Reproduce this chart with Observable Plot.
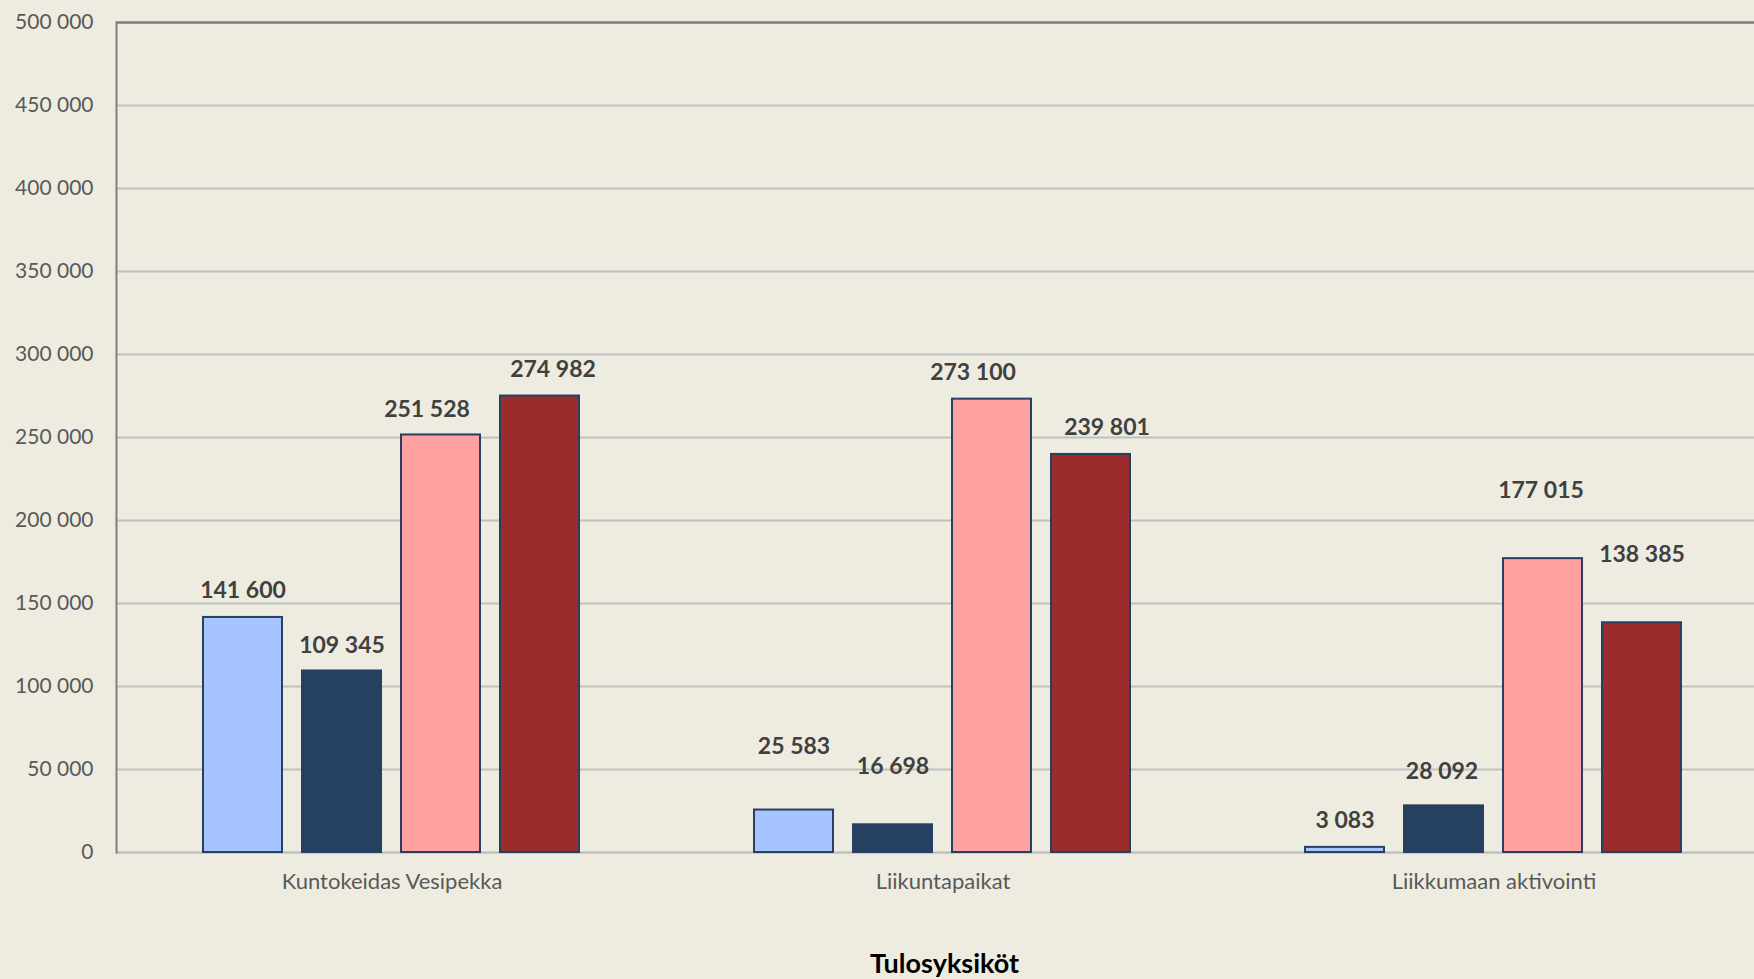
<!DOCTYPE html>
<html>
<head>
<meta charset="utf-8">
<script src="https://cdn.jsdelivr.net/npm/d3@7"></script>
<script src="https://cdn.jsdelivr.net/npm/@observablehq/plot@0.6"></script>
<style>
  html, body { margin: 0; padding: 0; background: #eeece1; }
  #chart svg { display: block; background: #eeece1; }
  #title {
    margin-top: 16px;
    padding-left: 135px;
    text-align: center;
    font-family: Lato, "Open Sans", sans-serif;
    font-weight: bold;
    font-size: 27px;
    line-height: normal;
    color: #000;
  }
</style>
</head>
<body>
<div id="chart"></div>
<div id="title">Tulosyksiköt</div>
<script>
// ---- data ----
const categories = ["Kuntokeidas Vesipekka", "Liikuntapaikat", "Liikkumaan aktivointi"];
const series = ["Sarja 1", "Sarja 2", "Sarja 3", "Sarja 4"];
const values1 = [141600, 25583, 3083];
const values2 = [109345, 16698, 28092];
const values3 = [251528, 273100, 177015];
const values4 = [274982, 239801, 138385];
const yTicks = [0, 50000, 100000, 150000, 200000, 250000, 300000, 350000, 400000, 450000, 500000];

// ---- styles ----
const colors = ["#a6c4ff", "#254061", "#ffa1a1", "#9a2c2c"];
// label placement nudges (px), per category row, per series column
const labelGap = [[19, 18, 18, 19], [56, 51, 19, 19], [19, 27, 61, 61]];
const labelShift = [[0, 0, -14, 13], [0, 0, -19, 16], [0, -2, -2, 0]];

const allValues = [values1, values2, values3, values4];
const rows = [];
categories.forEach((c, ci) => {
  series.forEach((s, si) => {
    rows.push({category: c, series: s, value: allValues[si][ci], gap: labelGap[ci][si], shift: labelShift[ci][si]});
  });
});

const fmt = d3.formatLocale({decimal: ",", thousands: " ", grouping: [3], currency: ["", ""]}).format(",d");
const font = "Lato, 'Open Sans', sans-serif";

const labelMarks = rows.map(r => Plot.text([r], {
  fx: "category", x: "series", y: "value",
  text: d => fmt(d.value),
  lineAnchor: "bottom", textAnchor: "middle",
  dy: -r.gap, dx: r.shift,
  fill: "#404040", fontWeight: "bold", fontSize: 23, fontFamily: font
}));

const chart = Plot.plot({
  width: 1754,
  height: 930,
  marginTop: 22,
  marginBottom: 78,
  marginLeft: 115,
  marginRight: -15,
  style: {background: "#eeece1", fontFamily: font, overflow: "hidden"},
  fx: {domain: categories, padding: 0, label: null},
  x: {domain: series, paddingInner: 0.2, paddingOuter: 0.86, axis: null},
  y: {domain: [0, 500000], label: null},
  color: {domain: series, range: colors},
  marks: [
    Plot.gridY(yTicks, {stroke: "#bfbfbf", strokeOpacity: 1, strokeWidth: 2}),
    Plot.ruleY([500000], {stroke: "#7f7f7f", strokeWidth: 2.5}),
    Plot.ruleY([0], {stroke: "#bfbfbf", strokeWidth: 2}),
    Plot.frame({anchor: "left", facetAnchor: "left", stroke: "#7f7f7f", strokeWidth: 2}),
    Plot.barY(rows, {fx: "category", x: "series", y: "value", fill: "series", stroke: "#254061", strokeWidth: 2}),
    ...labelMarks,
    Plot.axisY(yTicks, {tickSize: 0, tickPadding: 23, tickFormat: fmt, fontSize: 21, fill: "#595959", fontFamily: font, label: null}),
    Plot.axisFx({anchor: "bottom", tickSize: 0, tickPadding: 21, fontSize: 22, fill: "#595959", fontFamily: font, label: null})
  ]
});
document.getElementById("chart").appendChild(chart);
</script>
</body>
</html>
